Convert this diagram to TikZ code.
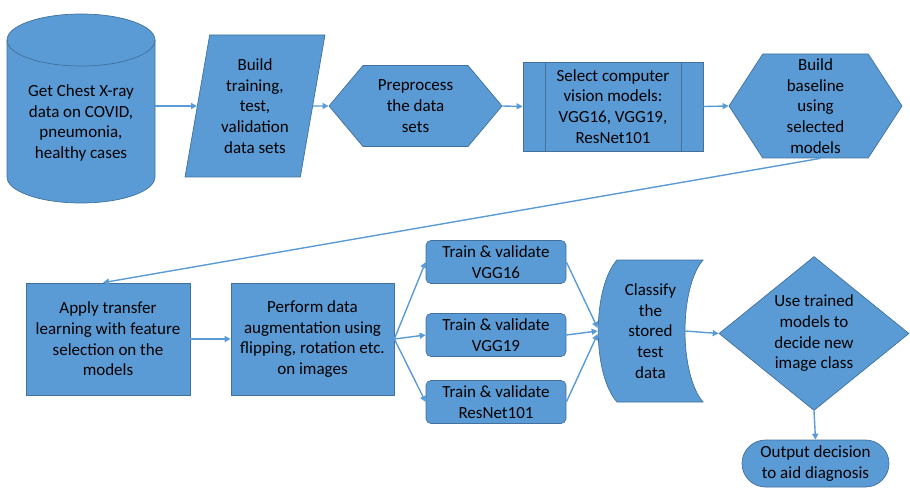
\documentclass[tikz,border=0pt]{standalone}
\usepackage{fontspec}
\setmainfont{Carlito}
\usetikzlibrary{shapes.geometric,shapes.symbols,shapes.misc,arrows.meta}

\definecolor{boxblue}{HTML}{5B9BD5}
\definecolor{edgeblue}{HTML}{41719C}

\begin{document}
\begin{tikzpicture}[x=1pt, y=1pt,
			main node/.style={fill=boxblue,draw=edgeblue,line width=0.7pt,align=center,inner sep=0pt,
				font=\fontsize{17}{20.7}\selectfont},
			hex node/.style={main node,signal,signal to=east and west},
			train node/.style={main node,rounded corners=5pt,minimum width=140pt,minimum height=43pt},
			flow/.style={-{Triangle[length=6pt,width=6pt]},color=boxblue,line width=1.4pt}]
			
			\useasboundingbox (0,0) rectangle (910,488);
			
			% database cylinder and stored data shape
			\filldraw[fill=boxblue,draw=edgeblue,line width=0.7pt] (7,448) -- (7,311)
			arc[start angle=180,end angle=360,x radius=74,y radius=26] -- (155,448)
			arc[start angle=0,end angle=180,x radius=74,y radius=26] -- cycle;
			\draw[edgeblue,line width=0.7pt] (7,448) arc[start angle=180,end angle=360,x radius=74,y radius=26];
			\filldraw[fill=boxblue,draw=edgeblue,line width=0.7pt] (617,228) -- (703,228)
			.. controls (679,200) and (679,114) .. (703,86) -- (617,86)
			.. controls (592,114) and (592,200) .. (617,228) -- cycle;
			
			\node[main node,draw=none,fill=none,minimum width=148pt] (data) at (81,365) {Get Chest X-ray\\data on COVID,\\pneumonia,\\healthy cases};
			\node[main node,trapezium,trapezium left angle=79,trapezium right angle=101,trapezium stretches=true,
				minimum width=140pt,minimum height=142pt] (build) at (255,382) {Build\\training,\\test,\\validation\\data sets};
			\node[hex node,signal pointer angle=100,minimum width=173pt,minimum height=81pt] (prep) at (415.5,382) {Preprocess\\the data\\sets};
			\node[main node,minimum width=180pt,minimum height=89pt] (select) at (613,381.5) {Select computer\\vision models:\\VGG16, VGG19,\\ResNet101};
			\node[hex node,signal pointer angle=114,minimum width=173pt,minimum height=104pt] (base) at (815.5,382) {Build\\baseline\\using\\selected\\models};
			
			\draw[edgeblue,line width=0.7pt] ([xshift=23pt]select.north west) -- ([xshift=23pt]select.south west);
			\draw[edgeblue,line width=0.7pt] ([xshift=-22pt]select.north east) -- ([xshift=-22pt]select.south east);
			
			\node[main node,minimum width=164pt,minimum height=112pt] (apply) at (108,149) {Apply transfer\\learning with feature\\selection on the\\models};
			\node[main node,minimum width=163pt,minimum height=112pt] (perform) at (312.5,149) {Perform data\\augmentation using\\flipping, rotation etc.\\on images};
			\node[train node] (train1) at (496,226) {Train \& validate\\VGG16};
			\node[train node] (train2) at (496,153) {Train \& validate\\VGG19};
			\node[train node] (train3) at (496,86) {Train \& validate\\ResNet101};
			\node[main node,draw=none,fill=none,minimum width=105pt,minimum height=142pt] (classify) at (650.5,157) {Classify\\the\\stored\\test\\data};
			\node[main node,diamond,aspect=1.23,minimum width=190pt,minimum height=154pt] (decide) at (814,154.5) {Use trained\\models to\\decide new\\image class};
			\node[main node,rounded rectangle,minimum width=147pt,minimum height=47pt] (output) at (815.5,24.5) {Output decision\\to aid diagnosis};
			
			\path[flow]
			(data.east |- build.west) edge (build.west)
			(build.east) edge (prep.west)
			(prep.east) edge (select.west)
			(select.east) edge (base.west)
			([xshift=5pt]base.south) edge ([xshift=-5pt]apply.north)
			(apply.east) edge (perform.west)
			
			(train1.east) edge ([yshift=3pt]classify.west)
			(train2.east) edge (classify.west)
			(train3.east) edge ([yshift=-3pt]classify.west)
			([xshift=-18pt]classify.east) edge (decide.west)
			(decide.south) edge (output.north);
			
			\foreach \t in {1,2,3}
			\path[flow] (perform.east) edge (train\t.west);
			
		\end{tikzpicture}
\end{document}
